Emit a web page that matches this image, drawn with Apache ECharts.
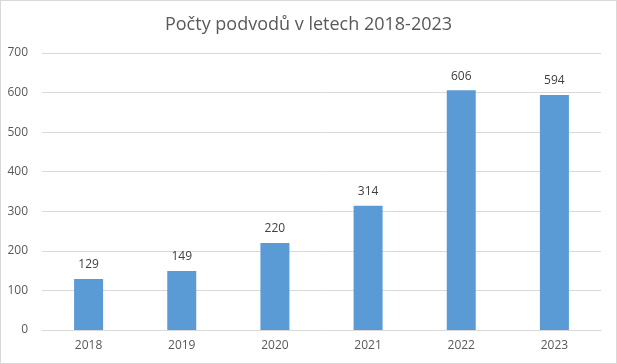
<!DOCTYPE html>
<html><head><meta charset="utf-8">
<script src="https://cdn.jsdelivr.net/npm/echarts@6/dist/echarts.min.js"></script>
<style>html,body{margin:0;padding:0;background:#fff}#c{width:615px;height:362px;border:1px solid #d9d9d9}</style>
</head><body><div id="c"></div>
<script>
const categories = ['2018','2019','2020','2021','2022','2023'];
const values = [129,149,220,314,606,594];
const chart = echarts.init(document.getElementById('c'));
chart.setOption({
  animation:false,
  title:{text:'Počty podvodů v letech 2018-2023',left:'center',top:10,textStyle:{fontFamily:'Open Sans',fontSize:18,fontWeight:'normal',color:'#595959'}},
  grid:{left:41,right:15,top:52,bottom:33},
  xAxis:{type:'category',data:categories,axisLine:{lineStyle:{color:'#d9d9d9'}},axisTick:{show:false},
    axisLabel:{color:'#595959',fontFamily:'Open Sans',fontSize:12,margin:10}},
  yAxis:{type:'value',min:0,max:700,interval:100,axisLine:{show:false},axisTick:{show:false},
    splitLine:{lineStyle:{color:'#d9d9d9'}},axisLabel:{color:'#595959',fontFamily:'Open Sans',fontSize:12,margin:14}},
  series:[{type:'bar',data:values,barWidth:29,itemStyle:{color:'#5b9bd5'},
    label:{show:true,position:'top',distance:8,color:'#404040',fontFamily:'Open Sans',fontSize:12}}]
});
</script></body></html>
